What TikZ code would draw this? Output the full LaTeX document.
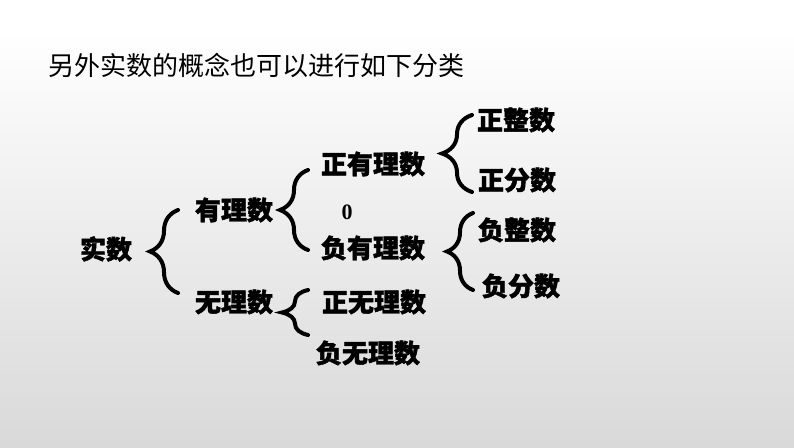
\documentclass[tikz,border=0pt]{standalone}
\usepackage{fontspec}
\newfontfamily\cjk{Noto Sans CJK SC}[BoldFeatures={FakeBold=1.6}]
\newfontfamily\cifra{Liberation Serif}
\usetikzlibrary{decorations.pathreplacing}

\begin{document}
\begin{tikzpicture}[
    x=1pt, y=-1pt,
    every node/.style={inner sep=0pt},
    titulo/.style={font=\cjk\fontsize{26}{30}\selectfont, anchor=west},
    etiqueta/.style={font=\cjk\bfseries\fontsize{26}{30}\selectfont},
    kuohao/.style={decorate, decoration={brace, amplitude=28pt}, line width=4pt, line cap=round}
  ]

  % ---------------- Fondo ----------------
  \fill[white] (0,0) rectangle (794,30);
  \shade[top color=white, bottom color=black!15] (0,30) rectangle (794,447);
  \useasboundingbox (0,0) rectangle (794,447);

  % ---------------- Titulo ----------------
  \node (titulo) [titulo] at (48,65) {另外实数的概念也可以进行如下分类};

  % ---------------- Clasificacion ----------------
  \node (shishu) [etiqueta] at (106,249) {实数};

  \node (youli) [etiqueta] at (234,210) {有理数};
  \node (wuli)  [etiqueta] at (234,302) {无理数};

  \node (zhengyouli) [etiqueta] at (373,164) {正有理数};
  \node (ling) [font=\cifra\bfseries\fontsize{22}{26}\selectfont] at (347,212) {0};
  \node (fuyouli)    [etiqueta] at (373,248) {负有理数};

  \node (zhengwuli) [etiqueta] at (374,302) {正无理数};
  \node (fuwuli)    [etiqueta] at (368,353) {负无理数};

  \node (zhengzheng) [etiqueta] at (516,120) {正整数};
  \node (zhengfen)   [etiqueta] at (517,180) {正分数};
  \node (fuzheng)    [etiqueta] at (517,230) {负整数};
  \node (fufen)      [etiqueta] at (521,286) {负分数};

  % Extremos de las llaves
  \coordinate (k1a) at (178,293); \coordinate (k1b) at (178,210);
  \coordinate (k2a) at (308,250); \coordinate (k2b) at (308,170);
  \coordinate (k3a) at (308,335); \coordinate (k3b) at (308,290);
  \coordinate (k4a) at (472,192); \coordinate (k4b) at (472,115);
  \coordinate (k5a) at (473,290); \coordinate (k5b) at (473,213);

  % Llaves
  \draw[kuohao] (k1a) -- (k1b);
  \draw[kuohao] (k2a) -- (k2b);
  \draw[kuohao, decoration={amplitude=26pt}] (k3a) -- (k3b);
  \draw[kuohao, decoration={amplitude=30pt}] (k4a) -- (k4b);
  \draw[kuohao, decoration={amplitude=26pt}] (k5a) -- (k5b);

\end{tikzpicture}
\end{document}
